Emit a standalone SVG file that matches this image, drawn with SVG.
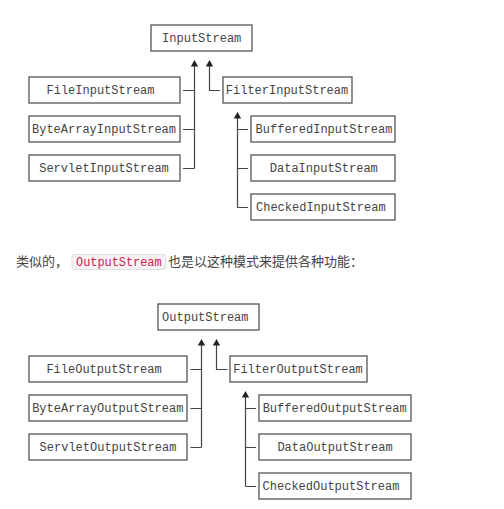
<svg xmlns="http://www.w3.org/2000/svg" width="504" height="509" viewBox="0 0 504 509">
<style>
.box rect{fill:#fff;stroke:#555;stroke-width:1.3}
.box text{font-family:"Liberation Mono",monospace;font-size:12px;fill:#444;text-anchor:middle}
.conn path{fill:none;stroke:#444;stroke-width:1.2}
.conn polygon{fill:#222}
.para{font-family:"Noto Sans CJK SC","Noto Sans",sans-serif;font-size:13px;fill:#444}
</style>
<rect width="504" height="509" fill="#fff"/>
<g id="InputStream" class="box"><rect x="151" y="25" width="101" height="26"/><text x="201.7" y="42">InputStream</text></g>
<g id="FileInputStream" class="box"><rect x="29" y="77" width="151" height="26"/><text x="100.5" y="94">FileInputStream</text></g>
<g id="ByteArrayInputStream" class="box"><rect x="29" y="116" width="151" height="26"/><text x="104" y="133">ByteArrayInputStream</text></g>
<g id="ServletInputStream" class="box"><rect x="29" y="155" width="151" height="26"/><text x="104" y="172">ServletInputStream</text></g>
<g id="FilterInputStream" class="box"><rect x="223" y="77" width="129" height="26"/><text x="287" y="94">FilterInputStream</text></g>
<g id="BufferedInputStream" class="box"><rect x="251" y="116" width="144" height="26"/><text x="324" y="133">BufferedInputStream</text></g>
<g id="DataInputStream" class="box"><rect x="251" y="155" width="144" height="26"/><text x="323.8" y="172">DataInputStream</text></g>
<g id="CheckedInputStream" class="box"><rect x="251" y="194" width="144" height="26"/><text x="320.8" y="211">CheckedInputStream</text></g>

<g id="OutputStream" class="box"><rect x="158" y="304" width="101" height="26"/><text x="205.3" y="321">OutputStream</text></g>
<g id="FileOutputStream" class="box"><rect x="29" y="356" width="158" height="26"/><text x="104" y="373">FileOutputStream</text></g>
<g id="ByteArrayOutputStream" class="box"><rect x="29" y="395" width="158" height="26"/><text x="107.8" y="412">ByteArrayOutputStream</text></g>
<g id="ServletOutputStream" class="box"><rect x="29" y="434" width="158" height="26"/><text x="108" y="451">ServletOutputStream</text></g>
<g id="FilterOutputStream" class="box"><rect x="230" y="356" width="137" height="26"/><text x="298" y="373">FilterOutputStream</text></g>
<g id="BufferedOutputStream" class="box"><rect x="259" y="395" width="152" height="26"/><text x="334.7" y="412">BufferedOutputStream</text></g>
<g id="DataOutputStream" class="box"><rect x="259" y="434" width="152" height="26"/><text x="335" y="451">DataOutputStream</text></g>
<g id="CheckedOutputStream" class="box"><rect x="259" y="473" width="152" height="26"/><text x="331" y="490">CheckedOutputStream</text></g>

<g id="connectors" class="conn">
<path d="M194.5 66V168.5M183 90.5H194.5M183 129.5H194.5M183 168.5H194.5"/>
<path d="M209.5 66V90.5H220"/>
<path d="M237.5 118V207.5M237.5 129.5H248M237.5 168.5H248M237.5 207.5H248"/>
<polygon points="194.5,60 190.8,66.5 198.2,66.5"/>
<polygon points="209.5,60 205.8,66.5 213.2,66.5"/>
<polygon points="237.5,112 233.8,118.5 241.2,118.5"/>
<path d="M201.5 345V447.5M190.5 369.5H201.5M190.5 408.5H201.5M190.5 447.5H201.5"/>
<path d="M216.5 345V369.5H227.5"/>
<path d="M245.5 397V486.5M245.5 408.5H256M245.5 447.5H256M245.5 486.5H256"/>
<polygon points="201.5,339 197.8,345.5 205.2,345.5"/>
<polygon points="216.5,339 212.8,345.5 220.2,345.5"/>
<polygon points="245.5,391 241.8,397.5 249.2,397.5"/>
</g>

<text class="para" x="16" y="266">类似的，</text>
<rect x="72" y="254.5" width="94" height="15" rx="3" fill="#f9f2f4" stroke="#ddd" stroke-width="1"/>
<text x="76" y="266" font-family="Liberation Mono,monospace" font-size="11.9" fill="#c7254e">OutputStream</text>
<text class="para" x="168" y="266">也是以这种模式来提供各种功能：</text>
</svg>
